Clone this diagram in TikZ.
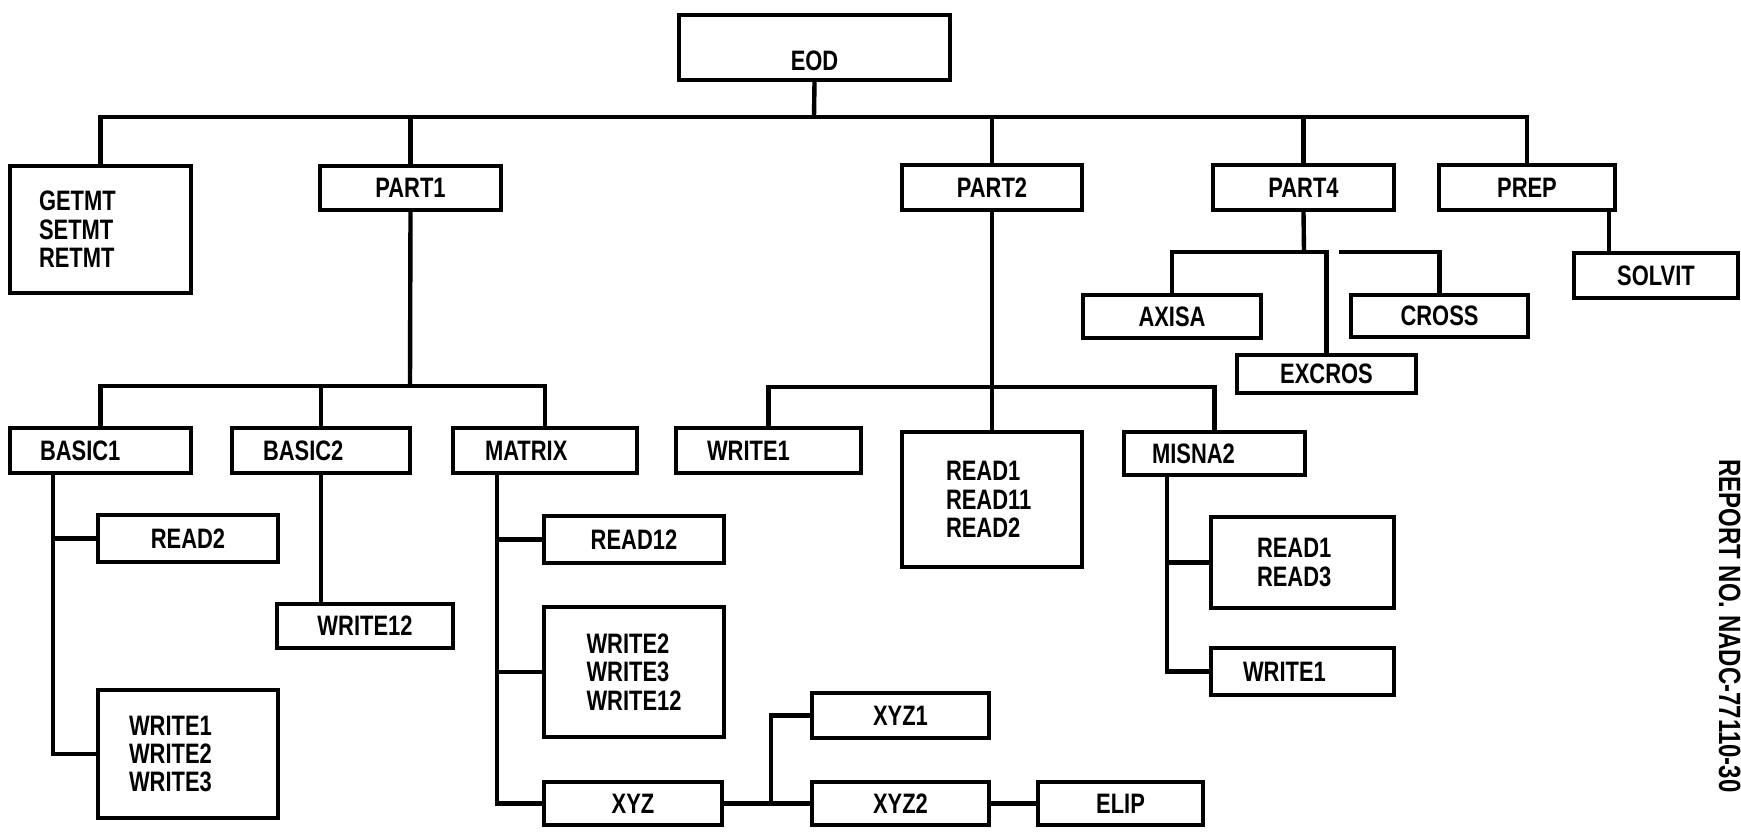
\documentclass[tikz,border=0pt]{standalone}
\usepackage{fontspec}
\setmainfont{Liberation Sans}[FakeStretch=0.78]
\usepackage{tikz}
\tikzset{
  chart line/.style={
    line width=2.5pt,        % all lines and frames
    line join=miter
  },
  box/.style={draw, chart line, inner sep=0pt,
    font=\bfseries\fontsize{16}{16.2}\selectfont},
  lbox/.style 2 args={box, align=left, text width=#1, inner xsep=#2}
}

\begin{document}
\begin{tikzpicture}[x=0.02cm, y=-0.02cm, every path/.style={chart line}]
    \useasboundingbox (0,0) rectangle (1741,836);

    % Top level
    \node[box, minimum width=5.42cm, minimum height=1.3cm, text height=0.9cm, text depth=0pt] (eod) at (814.5,47.5) {EOD};
    \coordinate (top) at (814,117);

    % First row
    \node[lbox={2.46cm}{0.58cm}, minimum width=3.62cm, minimum height=2.54cm] (getmt) at (100.5,229.5) {GETMT\\SETMT\\RETMT};
    \node[box, minimum width=3.62cm, minimum height=0.88cm] (part1) at (410.5,188) {PART1};
    \node[box, minimum width=3.6cm, minimum height=0.9cm] (part2) at (992,187.5) {PART2};
    \node[box, minimum width=3.62cm, minimum height=0.9cm] (part4) at (1303.5,187.5) {PART4};
    \node[box, minimum width=3.52cm, minimum height=0.9cm] (prep) at (1527,187.5) {PREP};

    \draw (eod.south) -- (top);
    \draw (getmt.north) |- (prep.north |- top) -- (prep.north);
    \foreach \n in {part1,part2,part4}
      \draw (\n.north) -- (\n.north |- top);

    % PART4 and PREP
    \node[box, minimum width=3.28cm, minimum height=0.9cm] (solvit) at (1656,275.5) {SOLVIT};
    \node[box, minimum width=3.56cm, minimum height=0.86cm] (axisa) at (1172,316.5) {AXISA};
    \node[box, minimum width=3.54cm, minimum height=0.84cm] (cross) at (1439.5,316) {CROSS};
    \node[box, minimum width=3.58cm, minimum height=0.76cm] (excros) at (1326.5,374) {EXCROS};
    \coordinate (p4bus) at (1304,252);

    \draw (part4.south) -- (p4bus);
    \draw (axisa.north) |- (excros.north |- p4bus) -- (excros.north);
    \draw (cross.north) |- ([xshift=0.24cm]excros.north |- p4bus);
    \draw ([xshift=-0.16cm]prep.south east) -- ([xshift=-0.16cm]prep.south east |- solvit.north);

    % PART1
    \node[lbox={2.42cm}{0.6cm}, minimum width=3.62cm, minimum height=0.9cm] (basic1) at (100.5,450.5) {BASIC1};
    \node[lbox={2.32cm}{0.62cm}, minimum width=3.56cm, minimum height=0.9cm] (basic2) at (321,450.5) {BASIC2};
    \node[lbox={2.40cm}{0.64cm}, minimum width=3.68cm, minimum height=0.9cm] (matrix) at (545,450.5) {MATRIX};
    \coordinate (p1bus) at (410,386);

    \draw (part1.south) -- (p1bus);
    \draw (basic1.north) |- (matrix.north |- p1bus) -- (matrix.north);
    \draw (basic2.north) -- (basic2.north |- p1bus);

    \node[box, minimum width=3.6cm, minimum height=0.94cm] (read2) at (188,538.5) {READ2};
    \node[lbox={2.36cm}{0.62cm}, minimum width=3.6cm, minimum height=2.56cm] (writes1) at (188,754) {WRITE1\\WRITE2\\WRITE3};
    \coordinate (b1) at ([xshift=0.9cm]basic1.south west);
    \draw (b1) |- (writes1.west);
    \draw (read2.west) -- (read2.west -| b1);

    \node[box, minimum width=3.52cm, minimum height=0.88cm] (write12) at (365,626) {WRITE12};
    \draw (basic2.south) -- (basic2.south |- write12.north);

    \node[box, minimum width=3.6cm, minimum height=0.94cm] (read12) at (634,539.5) {READ12};
    \node[lbox={1.9cm}{0.85cm}, minimum width=3.6cm, minimum height=2.6cm] (writes2) at (634,672) {WRITE2\\WRITE3\\WRITE12};
    \node[box, minimum width=3.56cm, minimum height=0.86cm] (xyz) at (633,803.5) {XYZ};
    \coordinate (m1) at ([xshift=0.92cm]matrix.south west);
    \draw (m1) |- (xyz.west);
    \draw (read12.west) -- (read12.west -| m1);
    \draw (writes2.west) -- (writes2.west -| m1);

    % XYZ branch
    \node[box, minimum width=3.54cm, minimum height=0.9cm] (xyz1) at (900.5,715.5) {XYZ1};
    \node[box, minimum width=3.54cm, minimum height=0.86cm] (xyz2) at (900.5,803.5) {XYZ2};
    \node[box, minimum width=3.3cm, minimum height=0.86cm] (elip) at (1120.5,803.5) {ELIP};
    \coordinate (xj) at ([xshift=0.94cm]xyz.east);
    \draw (xyz.east) -- (xyz2.west);
    \draw (xj) |- (xyz1.west);
    \draw (xyz2.east) -- (elip.west);

    % PART2
    \node[lbox={2.46cm}{0.62cm}, minimum width=3.7cm, minimum height=0.9cm] (wrt1) at (768.5,450.5) {WRITE1};
    \node[lbox={1.84cm}{0.88cm}, minimum width=3.6cm, minimum height=2.7cm] (reads) at (992,499.5) {READ1\\READ11\\READ2};
    \node[lbox={2.5cm}{0.56cm}, minimum width=3.62cm, minimum height=0.86cm] (misna2) at (1214.5,453.5) {MISNA2};
    \coordinate (p2bus) at (992,387);

    \draw (part2.south) -- (reads.north);
    \draw (wrt1.north) |- (misna2.north |- p2bus) -- (misna2.north);

    \node[lbox={1.82cm}{0.92cm}, minimum width=3.66cm, minimum height=1.82cm] (reads2) at (1302.5,562.5) {READ1\\READ3};
    \node[lbox={2.38cm}{0.64cm}, minimum width=3.66cm, minimum height=0.94cm] (wrt1b) at (1302.5,671.5) {WRITE1};
    \coordinate (ms) at ([xshift=0.9cm]misna2.south west);
    \draw (ms) |- (wrt1b.west);
    \draw (reads2.west) -- (reads2.west -| ms);

    % margin note
    \node[rotate=-90, anchor=base, inner sep=0pt, font=\bfseries\fontsize{17.5}{17.5}\selectfont] (report) at (1719,626) {REPORT NO. NADC-77110-30};
\end{tikzpicture}
\end{document}
